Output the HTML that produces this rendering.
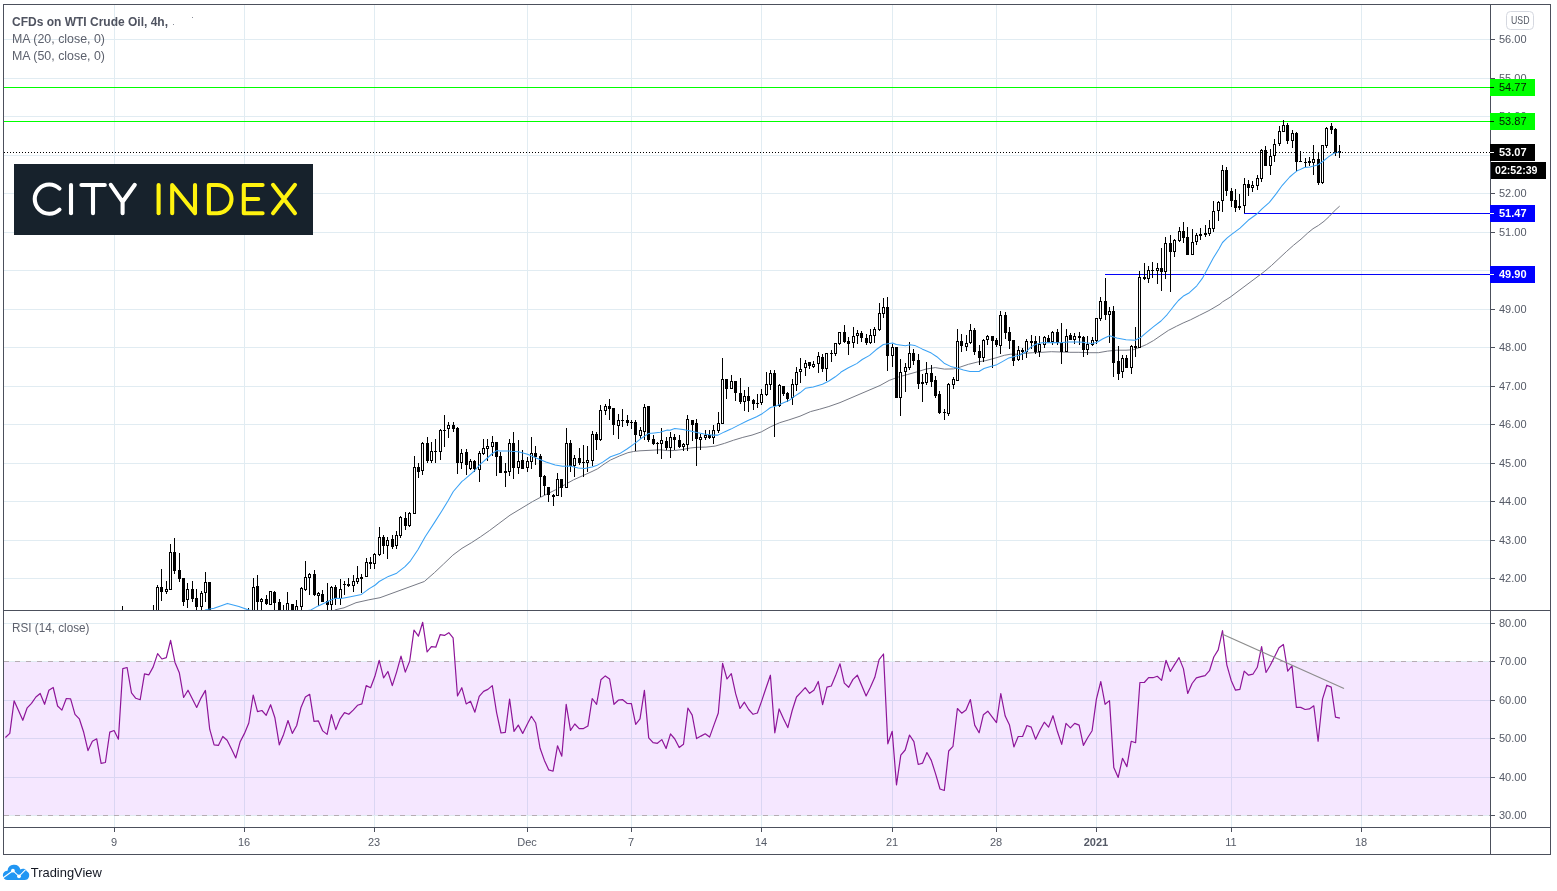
<!DOCTYPE html>
<html><head><meta charset="utf-8"><title>CFDs on WTI Crude Oil, 4h</title>
<style>html,body{margin:0;padding:0;background:#fff;}body{width:1557px;height:891px;overflow:hidden;font-family:"Liberation Sans",sans-serif;}svg{display:block;will-change:transform;}text{font-family:"Liberation Sans",sans-serif;}</style></head><body>
<svg width="1557" height="891" viewBox="0 0 1557 891">
<rect x="0" y="0" width="1557" height="891" fill="#ffffff"/>
<g shape-rendering="crispEdges" stroke="#e1ecf2" stroke-width="1">
<line x1="114.5" y1="5" x2="114.5" y2="827"/>
<line x1="244.5" y1="5" x2="244.5" y2="827"/>
<line x1="374.5" y1="5" x2="374.5" y2="827"/>
<line x1="527.5" y1="5" x2="527.5" y2="827"/>
<line x1="631.5" y1="5" x2="631.5" y2="827"/>
<line x1="761.5" y1="5" x2="761.5" y2="827"/>
<line x1="892.5" y1="5" x2="892.5" y2="827"/>
<line x1="996.5" y1="5" x2="996.5" y2="827"/>
<line x1="1096.5" y1="5" x2="1096.5" y2="827"/>
<line x1="1231.5" y1="5" x2="1231.5" y2="827"/>
<line x1="1361.5" y1="5" x2="1361.5" y2="827"/>
<line x1="4" y1="578.5" x2="1490" y2="578.5"/>
<line x1="4" y1="540.5" x2="1490" y2="540.5"/>
<line x1="4" y1="501.5" x2="1490" y2="501.5"/>
<line x1="4" y1="463.5" x2="1490" y2="463.5"/>
<line x1="4" y1="424.5" x2="1490" y2="424.5"/>
<line x1="4" y1="386.5" x2="1490" y2="386.5"/>
<line x1="4" y1="347.5" x2="1490" y2="347.5"/>
<line x1="4" y1="309.5" x2="1490" y2="309.5"/>
<line x1="4" y1="270.5" x2="1490" y2="270.5"/>
<line x1="4" y1="232.5" x2="1490" y2="232.5"/>
<line x1="4" y1="193.5" x2="1490" y2="193.5"/>
<line x1="4" y1="155.5" x2="1490" y2="155.5"/>
<line x1="4" y1="116.5" x2="1490" y2="116.5"/>
<line x1="4" y1="78.5" x2="1490" y2="78.5"/>
<line x1="4" y1="39.5" x2="1490" y2="39.5"/>
<line x1="4" y1="623.5" x2="1490" y2="623.5"/>
<line x1="4" y1="661.5" x2="1490" y2="661.5"/>
<line x1="4" y1="700.5" x2="1490" y2="700.5"/>
<line x1="4" y1="738.5" x2="1490" y2="738.5"/>
<line x1="4" y1="777.5" x2="1490" y2="777.5"/>
<line x1="4" y1="815.5" x2="1490" y2="815.5"/>
</g>
<rect x="4" y="662" width="1486" height="153" fill="#9915ff" fill-opacity="0.10"/>
<g shape-rendering="crispEdges" stroke="#b5adb3" stroke-width="1" stroke-dasharray="5,6">
<line x1="4" y1="661.5" x2="1490" y2="661.5"/><line x1="4" y1="815.5" x2="1490" y2="815.5"/></g>
<defs><clipPath id="cm"><rect x="4" y="5" width="1486" height="605"/></clipPath><clipPath id="cr"><rect x="4" y="611" width="1486" height="216"/></clipPath></defs>
<g shape-rendering="crispEdges" stroke-width="1">
<line x1="4" y1="87.5" x2="1490" y2="87.5" stroke="#00ff00"/>
<line x1="4" y1="121.5" x2="1490" y2="121.5" stroke="#00ff00"/>
<line x1="1244" y1="213.5" x2="1490" y2="213.5" stroke="#0404f8"/>
<line x1="1105" y1="274.5" x2="1490" y2="274.5" stroke="#0404f8"/>
</g>
<polyline clip-path="url(#cm)" points="334.8,609.9 344.0,607.8 356.0,602.7 368.9,599.8 380.0,597.7 424.3,581.5 434.4,572.7 443.6,564.0 452.8,555.2 462.0,548.3 471.3,542.8 480.5,536.8 489.7,530.4 498.9,523.5 510.0,515.2 532.7,501.5 540.5,497.3 547.9,493.6 555.2,490.0 564.4,484.9 573.6,479.8 582.8,475.7 592.0,471.5 597.6,468.8 604.0,464.2 610.5,460.0 619.7,455.9 627.9,452.7 633.5,451.5 640.0,450.8 660.0,449.8 667.4,450.6 674.7,450.5 683.0,449.4 690.4,448.0 696.8,447.3 706.0,447.1 715.2,446.1 724.4,443.4 733.6,440.2 742.8,437.4 752.0,435.1 761.3,431.9 770.5,426.8 779.7,422.7 788.9,419.9 800.0,416.2 810.5,411.6 819.7,409.2 828.9,406.5 840.0,402.6 880.0,385.5 889.2,380.4 898.4,377.0 907.6,374.5 916.8,371.9 926.0,369.1 935.2,367.6 944.4,369.1 953.6,368.9 960.1,367.1 968.4,364.3 977.6,362.0 985.9,360.6 995.1,358.1 1004.3,355.3 1010.7,354.2 1020.0,354.2 1023.6,353.4 1032.8,352.7 1042.0,352.3 1051.3,351.7 1060.5,352.0 1069.7,352.3 1078.9,352.3 1089.2,352.7 1098.4,352.7 1107.6,351.1 1116.8,350.2 1126.0,350.2 1133.4,349.7 1139.8,347.4 1146.3,344.6 1153.6,340.5 1161.0,335.4 1168.4,330.4 1176.6,326.2 1183.1,323.0 1190.5,319.8 1199.7,315.2 1208.9,310.6 1220.0,304.1 1222.5,301.9 1230.0,297.3 1264.2,271.7 1271.5,265.5 1278.9,258.6 1286.3,251.7 1293.6,245.2 1301.0,239.2 1307.4,233.3 1313.0,228.7 1318.5,225.4 1324.0,221.3 1329.5,216.2 1334.1,211.2 1339.7,206.1" fill="none" stroke="#777a85" stroke-width="1.0" stroke-linejoin="round"/>
<g clip-path="url(#cm)" shape-rendering="crispEdges">
<rect x="122" y="606" width="1" height="94" fill="#000"/>
<rect x="121" y="613" width="3" height="87" fill="#000"/>
<rect x="153" y="605" width="1" height="95" fill="#000"/>
<rect x="152" y="613" width="3" height="87" fill="#000"/>
<rect x="157" y="585" width="1" height="115" fill="#000"/>
<rect x="156" y="587" width="3" height="113" fill="#000"/><rect x="157" y="588" width="1" height="111" fill="#fff"/>
<rect x="161" y="569" width="1" height="32" fill="#000"/>
<rect x="160" y="587" width="3" height="5" fill="#000"/>
<rect x="166" y="581" width="1" height="13" fill="#000"/>
<rect x="165" y="589" width="3" height="3" fill="#000"/><rect x="166" y="590" width="1" height="1" fill="#fff"/>
<rect x="170" y="544" width="1" height="46" fill="#000"/>
<rect x="169" y="552" width="3" height="38" fill="#000"/><rect x="170" y="553" width="1" height="36" fill="#fff"/>
<rect x="174" y="538" width="1" height="36" fill="#000"/>
<rect x="173" y="552" width="3" height="19" fill="#000"/>
<rect x="179" y="553" width="1" height="29" fill="#000"/>
<rect x="178" y="570" width="3" height="9" fill="#000"/>
<rect x="183" y="578" width="1" height="28" fill="#000"/>
<rect x="182" y="578" width="3" height="24" fill="#000"/>
<rect x="187" y="583" width="1" height="25" fill="#000"/>
<rect x="186" y="589" width="3" height="11" fill="#000"/><rect x="187" y="590" width="1" height="9" fill="#fff"/>
<rect x="192" y="581" width="1" height="21" fill="#000"/>
<rect x="191" y="589" width="3" height="10" fill="#000"/>
<rect x="196" y="589" width="1" height="111" fill="#000"/>
<rect x="195" y="598" width="3" height="9" fill="#000"/>
<rect x="201" y="591" width="1" height="109" fill="#000"/>
<rect x="200" y="593" width="3" height="14" fill="#000"/><rect x="201" y="594" width="1" height="12" fill="#fff"/>
<rect x="205" y="572" width="1" height="30" fill="#000"/>
<rect x="204" y="582" width="3" height="11" fill="#000"/><rect x="205" y="583" width="1" height="9" fill="#fff"/>
<rect x="209" y="582" width="1" height="118" fill="#000"/>
<rect x="208" y="582" width="3" height="118" fill="#000"/>
<rect x="248" y="608" width="1" height="92" fill="#000"/>
<rect x="247" y="613" width="3" height="87" fill="#000"/>
<rect x="253" y="578" width="1" height="122" fill="#000"/>
<rect x="252" y="587" width="3" height="113" fill="#000"/><rect x="253" y="588" width="1" height="111" fill="#fff"/>
<rect x="257" y="575" width="1" height="125" fill="#000"/>
<rect x="256" y="586" width="3" height="16" fill="#000"/>
<rect x="261" y="598" width="1" height="102" fill="#000"/>
<rect x="260" y="599" width="3" height="3" fill="#000"/><rect x="261" y="600" width="1" height="1" fill="#fff"/>
<rect x="266" y="595" width="1" height="10" fill="#000"/>
<rect x="265" y="599" width="3" height="5" fill="#000"/>
<rect x="270" y="591" width="1" height="14" fill="#000"/>
<rect x="269" y="591" width="3" height="14" fill="#000"/><rect x="270" y="592" width="1" height="12" fill="#fff"/>
<rect x="274" y="591" width="1" height="109" fill="#000"/>
<rect x="273" y="592" width="3" height="11" fill="#000"/>
<rect x="279" y="599" width="1" height="101" fill="#000"/>
<rect x="278" y="602" width="3" height="98" fill="#000"/>
<rect x="283" y="605" width="1" height="95" fill="#000"/>
<rect x="282" y="613" width="3" height="87" fill="#000"/>
<rect x="287" y="592" width="1" height="108" fill="#000"/>
<rect x="286" y="603" width="3" height="97" fill="#000"/><rect x="287" y="604" width="1" height="95" fill="#fff"/>
<rect x="292" y="604" width="1" height="96" fill="#000"/>
<rect x="291" y="604" width="3" height="96" fill="#000"/>
<rect x="296" y="600" width="1" height="100" fill="#000"/>
<rect x="295" y="606" width="3" height="94" fill="#000"/><rect x="296" y="607" width="1" height="92" fill="#fff"/>
<rect x="301" y="587" width="1" height="113" fill="#000"/>
<rect x="300" y="588" width="3" height="19" fill="#000"/><rect x="301" y="589" width="1" height="17" fill="#fff"/>
<rect x="305" y="561" width="1" height="30" fill="#000"/>
<rect x="304" y="577" width="3" height="13" fill="#000"/><rect x="305" y="578" width="1" height="11" fill="#fff"/>
<rect x="309" y="573" width="1" height="22" fill="#000"/>
<rect x="308" y="574" width="3" height="4" fill="#000"/><rect x="309" y="575" width="1" height="2" fill="#fff"/>
<rect x="314" y="570" width="1" height="26" fill="#000"/>
<rect x="313" y="574" width="3" height="21" fill="#000"/>
<rect x="318" y="592" width="1" height="14" fill="#000"/>
<rect x="317" y="593" width="3" height="3" fill="#000"/><rect x="318" y="594" width="1" height="1" fill="#fff"/>
<rect x="322" y="590" width="1" height="12" fill="#000"/>
<rect x="321" y="594" width="3" height="8" fill="#000"/>
<rect x="327" y="583" width="1" height="117" fill="#000"/>
<rect x="326" y="601" width="3" height="4" fill="#000"/>
<rect x="331" y="586" width="1" height="114" fill="#000"/>
<rect x="330" y="587" width="3" height="18" fill="#000"/><rect x="331" y="588" width="1" height="16" fill="#fff"/>
<rect x="335" y="585" width="1" height="20" fill="#000"/>
<rect x="334" y="587" width="3" height="12" fill="#000"/>
<rect x="340" y="579" width="1" height="26" fill="#000"/>
<rect x="339" y="589" width="3" height="10" fill="#000"/><rect x="340" y="590" width="1" height="8" fill="#fff"/>
<rect x="344" y="581" width="1" height="14" fill="#000"/>
<rect x="343" y="584" width="3" height="1" fill="#000"/>
<rect x="348" y="578" width="1" height="9" fill="#000"/>
<rect x="347" y="584" width="3" height="2" fill="#000"/>
<rect x="353" y="575" width="1" height="17" fill="#000"/>
<rect x="352" y="581" width="3" height="5" fill="#000"/><rect x="353" y="582" width="1" height="3" fill="#fff"/>
<rect x="357" y="566" width="1" height="18" fill="#000"/>
<rect x="356" y="578" width="3" height="4" fill="#000"/><rect x="357" y="579" width="1" height="2" fill="#fff"/>
<rect x="361" y="574" width="1" height="19" fill="#000"/>
<rect x="360" y="577" width="3" height="2" fill="#000"/>
<rect x="366" y="558" width="1" height="19" fill="#000"/>
<rect x="365" y="562" width="3" height="15" fill="#000"/><rect x="366" y="563" width="1" height="13" fill="#fff"/>
<rect x="370" y="557" width="1" height="12" fill="#000"/>
<rect x="369" y="562" width="3" height="2" fill="#000"/>
<rect x="374" y="553" width="1" height="16" fill="#000"/>
<rect x="373" y="554" width="3" height="10" fill="#000"/><rect x="374" y="555" width="1" height="8" fill="#fff"/>
<rect x="379" y="527" width="1" height="29" fill="#000"/>
<rect x="378" y="537" width="3" height="18" fill="#000"/><rect x="379" y="538" width="1" height="16" fill="#fff"/>
<rect x="383" y="535" width="1" height="19" fill="#000"/>
<rect x="382" y="537" width="3" height="9" fill="#000"/>
<rect x="387" y="537" width="1" height="22" fill="#000"/>
<rect x="386" y="540" width="3" height="6" fill="#000"/><rect x="387" y="541" width="1" height="4" fill="#fff"/>
<rect x="392" y="535" width="1" height="14" fill="#000"/>
<rect x="391" y="539" width="3" height="8" fill="#000"/>
<rect x="396" y="531" width="1" height="18" fill="#000"/>
<rect x="395" y="535" width="3" height="11" fill="#000"/><rect x="396" y="536" width="1" height="9" fill="#fff"/>
<rect x="400" y="516" width="1" height="22" fill="#000"/>
<rect x="399" y="517" width="3" height="19" fill="#000"/><rect x="400" y="518" width="1" height="17" fill="#fff"/>
<rect x="405" y="512" width="1" height="18" fill="#000"/>
<rect x="404" y="518" width="3" height="8" fill="#000"/>
<rect x="409" y="512" width="1" height="15" fill="#000"/>
<rect x="408" y="513" width="3" height="13" fill="#000"/><rect x="409" y="514" width="1" height="11" fill="#fff"/>
<rect x="414" y="456" width="1" height="58" fill="#000"/>
<rect x="413" y="467" width="3" height="47" fill="#000"/><rect x="414" y="468" width="1" height="45" fill="#fff"/>
<rect x="418" y="463" width="1" height="15" fill="#000"/>
<rect x="417" y="467" width="3" height="5" fill="#000"/>
<rect x="422" y="442" width="1" height="33" fill="#000"/>
<rect x="421" y="443" width="3" height="28" fill="#000"/><rect x="422" y="444" width="1" height="26" fill="#fff"/>
<rect x="427" y="437" width="1" height="26" fill="#000"/>
<rect x="426" y="443" width="3" height="18" fill="#000"/>
<rect x="431" y="442" width="1" height="21" fill="#000"/>
<rect x="430" y="451" width="3" height="10" fill="#000"/><rect x="431" y="452" width="1" height="8" fill="#fff"/>
<rect x="435" y="439" width="1" height="24" fill="#000"/>
<rect x="434" y="451" width="3" height="1" fill="#000"/>
<rect x="440" y="429" width="1" height="31" fill="#000"/>
<rect x="439" y="430" width="3" height="22" fill="#000"/><rect x="440" y="431" width="1" height="20" fill="#fff"/>
<rect x="444" y="415" width="1" height="32" fill="#000"/>
<rect x="443" y="430" width="3" height="1" fill="#000"/>
<rect x="448" y="422" width="1" height="16" fill="#000"/>
<rect x="447" y="425" width="3" height="4" fill="#000"/><rect x="448" y="426" width="1" height="2" fill="#fff"/>
<rect x="453" y="422" width="1" height="10" fill="#000"/>
<rect x="452" y="425" width="3" height="4" fill="#000"/>
<rect x="457" y="427" width="1" height="47" fill="#000"/>
<rect x="456" y="428" width="3" height="35" fill="#000"/>
<rect x="461" y="449" width="1" height="20" fill="#000"/>
<rect x="460" y="453" width="3" height="10" fill="#000"/><rect x="461" y="454" width="1" height="8" fill="#fff"/>
<rect x="466" y="449" width="1" height="26" fill="#000"/>
<rect x="465" y="452" width="3" height="13" fill="#000"/>
<rect x="470" y="459" width="1" height="11" fill="#000"/>
<rect x="469" y="461" width="3" height="8" fill="#000"/><rect x="470" y="462" width="1" height="6" fill="#fff"/>
<rect x="474" y="460" width="1" height="12" fill="#000"/>
<rect x="473" y="461" width="3" height="8" fill="#000"/>
<rect x="479" y="451" width="1" height="31" fill="#000"/>
<rect x="478" y="453" width="3" height="17" fill="#000"/><rect x="479" y="454" width="1" height="15" fill="#fff"/>
<rect x="483" y="439" width="1" height="16" fill="#000"/>
<rect x="482" y="448" width="3" height="6" fill="#000"/><rect x="483" y="449" width="1" height="4" fill="#fff"/>
<rect x="487" y="439" width="1" height="22" fill="#000"/>
<rect x="486" y="446" width="3" height="3" fill="#000"/><rect x="487" y="447" width="1" height="1" fill="#fff"/>
<rect x="492" y="436" width="1" height="20" fill="#000"/>
<rect x="491" y="442" width="3" height="5" fill="#000"/><rect x="492" y="443" width="1" height="3" fill="#fff"/>
<rect x="496" y="442" width="1" height="34" fill="#000"/>
<rect x="495" y="442" width="3" height="15" fill="#000"/>
<rect x="500" y="452" width="1" height="21" fill="#000"/>
<rect x="499" y="456" width="3" height="17" fill="#000"/>
<rect x="505" y="463" width="1" height="24" fill="#000"/>
<rect x="504" y="471" width="3" height="2" fill="#000"/>
<rect x="509" y="439" width="1" height="37" fill="#000"/>
<rect x="508" y="443" width="3" height="29" fill="#000"/><rect x="509" y="444" width="1" height="27" fill="#fff"/>
<rect x="513" y="432" width="1" height="47" fill="#000"/>
<rect x="512" y="443" width="3" height="25" fill="#000"/>
<rect x="518" y="440" width="1" height="34" fill="#000"/>
<rect x="517" y="461" width="3" height="7" fill="#000"/><rect x="518" y="462" width="1" height="5" fill="#fff"/>
<rect x="522" y="450" width="1" height="19" fill="#000"/>
<rect x="521" y="460" width="3" height="9" fill="#000"/>
<rect x="527" y="457" width="1" height="15" fill="#000"/>
<rect x="526" y="461" width="3" height="7" fill="#000"/><rect x="527" y="462" width="1" height="5" fill="#fff"/>
<rect x="531" y="437" width="1" height="32" fill="#000"/>
<rect x="530" y="453" width="3" height="9" fill="#000"/><rect x="531" y="454" width="1" height="7" fill="#fff"/>
<rect x="535" y="446" width="1" height="19" fill="#000"/>
<rect x="534" y="453" width="3" height="4" fill="#000"/>
<rect x="540" y="454" width="1" height="43" fill="#000"/>
<rect x="539" y="456" width="3" height="21" fill="#000"/>
<rect x="544" y="475" width="1" height="20" fill="#000"/>
<rect x="543" y="476" width="3" height="10" fill="#000"/>
<rect x="548" y="487" width="1" height="15" fill="#000"/>
<rect x="547" y="487" width="3" height="8" fill="#000"/>
<rect x="553" y="494" width="1" height="12" fill="#000"/>
<rect x="552" y="495" width="3" height="2" fill="#000"/>
<rect x="557" y="473" width="1" height="23" fill="#000"/>
<rect x="556" y="479" width="3" height="17" fill="#000"/><rect x="557" y="480" width="1" height="15" fill="#fff"/>
<rect x="561" y="479" width="1" height="18" fill="#000"/>
<rect x="560" y="479" width="3" height="9" fill="#000"/>
<rect x="566" y="428" width="1" height="60" fill="#000"/>
<rect x="565" y="443" width="3" height="45" fill="#000"/><rect x="566" y="444" width="1" height="43" fill="#fff"/>
<rect x="570" y="440" width="1" height="32" fill="#000"/>
<rect x="569" y="443" width="3" height="23" fill="#000"/>
<rect x="574" y="455" width="1" height="22" fill="#000"/>
<rect x="573" y="458" width="3" height="8" fill="#000"/><rect x="574" y="459" width="1" height="6" fill="#fff"/>
<rect x="579" y="448" width="1" height="17" fill="#000"/>
<rect x="578" y="458" width="3" height="5" fill="#000"/>
<rect x="583" y="445" width="1" height="32" fill="#000"/>
<rect x="582" y="462" width="3" height="1" fill="#000"/>
<rect x="587" y="446" width="1" height="26" fill="#000"/>
<rect x="586" y="460" width="3" height="3" fill="#000"/><rect x="587" y="461" width="1" height="1" fill="#fff"/>
<rect x="592" y="431" width="1" height="35" fill="#000"/>
<rect x="591" y="434" width="3" height="27" fill="#000"/><rect x="592" y="435" width="1" height="25" fill="#fff"/>
<rect x="596" y="432" width="1" height="18" fill="#000"/>
<rect x="595" y="434" width="3" height="6" fill="#000"/>
<rect x="600" y="405" width="1" height="36" fill="#000"/>
<rect x="599" y="410" width="3" height="30" fill="#000"/><rect x="600" y="411" width="1" height="28" fill="#fff"/>
<rect x="605" y="404" width="1" height="11" fill="#000"/>
<rect x="604" y="406" width="3" height="5" fill="#000"/><rect x="605" y="407" width="1" height="3" fill="#fff"/>
<rect x="609" y="399" width="1" height="21" fill="#000"/>
<rect x="608" y="406" width="3" height="3" fill="#000"/>
<rect x="613" y="408" width="1" height="27" fill="#000"/>
<rect x="612" y="408" width="3" height="17" fill="#000"/>
<rect x="618" y="414" width="1" height="25" fill="#000"/>
<rect x="617" y="420" width="3" height="6" fill="#000"/><rect x="618" y="421" width="1" height="4" fill="#fff"/>
<rect x="622" y="409" width="1" height="18" fill="#000"/>
<rect x="621" y="420" width="3" height="1" fill="#000"/>
<rect x="627" y="415" width="1" height="11" fill="#000"/>
<rect x="626" y="420" width="3" height="3" fill="#000"/>
<rect x="631" y="420" width="1" height="9" fill="#000"/>
<rect x="630" y="422" width="3" height="1" fill="#000"/>
<rect x="635" y="420" width="1" height="31" fill="#000"/>
<rect x="634" y="422" width="3" height="13" fill="#000"/>
<rect x="640" y="427" width="1" height="12" fill="#000"/>
<rect x="639" y="430" width="3" height="6" fill="#000"/><rect x="640" y="431" width="1" height="4" fill="#fff"/>
<rect x="644" y="404" width="1" height="36" fill="#000"/>
<rect x="643" y="407" width="3" height="25" fill="#000"/><rect x="644" y="408" width="1" height="23" fill="#fff"/>
<rect x="648" y="406" width="1" height="36" fill="#000"/>
<rect x="647" y="406" width="3" height="34" fill="#000"/>
<rect x="653" y="435" width="1" height="10" fill="#000"/>
<rect x="652" y="439" width="3" height="5" fill="#000"/>
<rect x="657" y="442" width="1" height="12" fill="#000"/>
<rect x="656" y="443" width="3" height="1" fill="#000"/>
<rect x="661" y="428" width="1" height="31" fill="#000"/>
<rect x="660" y="440" width="3" height="4" fill="#000"/><rect x="661" y="441" width="1" height="2" fill="#fff"/>
<rect x="666" y="437" width="1" height="13" fill="#000"/>
<rect x="665" y="441" width="3" height="7" fill="#000"/>
<rect x="670" y="432" width="1" height="26" fill="#000"/>
<rect x="669" y="437" width="3" height="11" fill="#000"/><rect x="670" y="438" width="1" height="9" fill="#fff"/>
<rect x="674" y="434" width="1" height="16" fill="#000"/>
<rect x="673" y="437" width="3" height="3" fill="#000"/>
<rect x="679" y="435" width="1" height="13" fill="#000"/>
<rect x="678" y="440" width="3" height="7" fill="#000"/>
<rect x="683" y="443" width="1" height="8" fill="#000"/>
<rect x="682" y="444" width="3" height="3" fill="#000"/><rect x="683" y="445" width="1" height="1" fill="#fff"/>
<rect x="687" y="415" width="1" height="36" fill="#000"/>
<rect x="686" y="419" width="3" height="26" fill="#000"/><rect x="687" y="420" width="1" height="24" fill="#fff"/>
<rect x="692" y="420" width="1" height="21" fill="#000"/>
<rect x="691" y="420" width="3" height="5" fill="#000"/>
<rect x="696" y="419" width="1" height="47" fill="#000"/>
<rect x="695" y="423" width="3" height="16" fill="#000"/>
<rect x="700" y="434" width="1" height="16" fill="#000"/>
<rect x="699" y="437" width="3" height="3" fill="#000"/><rect x="700" y="438" width="1" height="1" fill="#fff"/>
<rect x="705" y="430" width="1" height="10" fill="#000"/>
<rect x="704" y="435" width="3" height="3" fill="#000"/><rect x="705" y="436" width="1" height="1" fill="#fff"/>
<rect x="709" y="430" width="1" height="9" fill="#000"/>
<rect x="708" y="435" width="3" height="3" fill="#000"/>
<rect x="713" y="425" width="1" height="19" fill="#000"/>
<rect x="712" y="430" width="3" height="8" fill="#000"/><rect x="713" y="431" width="1" height="6" fill="#fff"/>
<rect x="718" y="412" width="1" height="21" fill="#000"/>
<rect x="717" y="423" width="3" height="8" fill="#000"/><rect x="718" y="424" width="1" height="6" fill="#fff"/>
<rect x="722" y="358" width="1" height="66" fill="#000"/>
<rect x="721" y="379" width="3" height="45" fill="#000"/><rect x="722" y="380" width="1" height="43" fill="#fff"/>
<rect x="726" y="379" width="1" height="20" fill="#000"/>
<rect x="725" y="379" width="3" height="10" fill="#000"/>
<rect x="731" y="375" width="1" height="14" fill="#000"/>
<rect x="730" y="381" width="3" height="8" fill="#000"/><rect x="731" y="382" width="1" height="6" fill="#fff"/>
<rect x="735" y="381" width="1" height="20" fill="#000"/>
<rect x="734" y="381" width="3" height="12" fill="#000"/>
<rect x="740" y="378" width="1" height="26" fill="#000"/>
<rect x="739" y="393" width="3" height="9" fill="#000"/>
<rect x="744" y="390" width="1" height="21" fill="#000"/>
<rect x="743" y="396" width="3" height="6" fill="#000"/><rect x="744" y="397" width="1" height="4" fill="#fff"/>
<rect x="748" y="387" width="1" height="25" fill="#000"/>
<rect x="747" y="396" width="3" height="5" fill="#000"/>
<rect x="753" y="399" width="1" height="11" fill="#000"/>
<rect x="752" y="400" width="3" height="4" fill="#000"/>
<rect x="757" y="394" width="1" height="14" fill="#000"/>
<rect x="756" y="403" width="3" height="1" fill="#000"/>
<rect x="761" y="389" width="1" height="16" fill="#000"/>
<rect x="760" y="394" width="3" height="9" fill="#000"/><rect x="761" y="395" width="1" height="7" fill="#fff"/>
<rect x="766" y="372" width="1" height="24" fill="#000"/>
<rect x="765" y="384" width="3" height="11" fill="#000"/><rect x="766" y="385" width="1" height="9" fill="#fff"/>
<rect x="770" y="370" width="1" height="20" fill="#000"/>
<rect x="769" y="373" width="3" height="12" fill="#000"/><rect x="770" y="374" width="1" height="10" fill="#fff"/>
<rect x="774" y="370" width="1" height="67" fill="#000"/>
<rect x="773" y="373" width="3" height="33" fill="#000"/>
<rect x="779" y="384" width="1" height="23" fill="#000"/>
<rect x="778" y="385" width="3" height="21" fill="#000"/><rect x="779" y="386" width="1" height="19" fill="#fff"/>
<rect x="783" y="386" width="1" height="10" fill="#000"/>
<rect x="782" y="386" width="3" height="8" fill="#000"/>
<rect x="787" y="392" width="1" height="10" fill="#000"/>
<rect x="786" y="393" width="3" height="6" fill="#000"/>
<rect x="792" y="379" width="1" height="26" fill="#000"/>
<rect x="791" y="384" width="3" height="14" fill="#000"/><rect x="792" y="385" width="1" height="12" fill="#fff"/>
<rect x="796" y="367" width="1" height="24" fill="#000"/>
<rect x="795" y="372" width="3" height="13" fill="#000"/><rect x="796" y="373" width="1" height="11" fill="#fff"/>
<rect x="800" y="358" width="1" height="25" fill="#000"/>
<rect x="799" y="369" width="3" height="3" fill="#000"/><rect x="800" y="370" width="1" height="1" fill="#fff"/>
<rect x="805" y="360" width="1" height="16" fill="#000"/>
<rect x="804" y="363" width="3" height="5" fill="#000"/><rect x="805" y="364" width="1" height="3" fill="#fff"/>
<rect x="809" y="362" width="1" height="7" fill="#000"/>
<rect x="808" y="362" width="3" height="4" fill="#000"/>
<rect x="813" y="361" width="1" height="7" fill="#000"/>
<rect x="812" y="364" width="3" height="3" fill="#000"/><rect x="813" y="365" width="1" height="1" fill="#fff"/>
<rect x="818" y="352" width="1" height="21" fill="#000"/>
<rect x="817" y="356" width="3" height="8" fill="#000"/><rect x="818" y="357" width="1" height="6" fill="#fff"/>
<rect x="822" y="354" width="1" height="18" fill="#000"/>
<rect x="821" y="357" width="3" height="12" fill="#000"/>
<rect x="826" y="353" width="1" height="28" fill="#000"/>
<rect x="825" y="353" width="3" height="16" fill="#000"/><rect x="826" y="354" width="1" height="14" fill="#fff"/>
<rect x="831" y="350" width="1" height="12" fill="#000"/>
<rect x="830" y="353" width="3" height="1" fill="#000"/>
<rect x="835" y="343" width="1" height="13" fill="#000"/>
<rect x="834" y="343" width="3" height="11" fill="#000"/><rect x="835" y="344" width="1" height="9" fill="#fff"/>
<rect x="839" y="332" width="1" height="13" fill="#000"/>
<rect x="838" y="332" width="3" height="12" fill="#000"/><rect x="839" y="333" width="1" height="10" fill="#fff"/>
<rect x="844" y="325" width="1" height="18" fill="#000"/>
<rect x="843" y="332" width="3" height="10" fill="#000"/>
<rect x="848" y="337" width="1" height="18" fill="#000"/>
<rect x="847" y="341" width="3" height="3" fill="#000"/>
<rect x="853" y="327" width="1" height="21" fill="#000"/>
<rect x="852" y="336" width="3" height="7" fill="#000"/><rect x="853" y="337" width="1" height="5" fill="#fff"/>
<rect x="857" y="330" width="1" height="14" fill="#000"/>
<rect x="856" y="333" width="3" height="3" fill="#000"/><rect x="857" y="334" width="1" height="1" fill="#fff"/>
<rect x="861" y="331" width="1" height="11" fill="#000"/>
<rect x="860" y="333" width="3" height="5" fill="#000"/>
<rect x="866" y="334" width="1" height="11" fill="#000"/>
<rect x="865" y="338" width="3" height="5" fill="#000"/>
<rect x="870" y="329" width="1" height="15" fill="#000"/>
<rect x="869" y="335" width="3" height="8" fill="#000"/><rect x="870" y="336" width="1" height="6" fill="#fff"/>
<rect x="874" y="327" width="1" height="16" fill="#000"/>
<rect x="873" y="329" width="3" height="7" fill="#000"/><rect x="874" y="330" width="1" height="5" fill="#fff"/>
<rect x="879" y="303" width="1" height="28" fill="#000"/>
<rect x="878" y="313" width="3" height="17" fill="#000"/><rect x="879" y="314" width="1" height="15" fill="#fff"/>
<rect x="883" y="298" width="1" height="20" fill="#000"/>
<rect x="882" y="307" width="3" height="7" fill="#000"/><rect x="883" y="308" width="1" height="5" fill="#fff"/>
<rect x="887" y="297" width="1" height="74" fill="#000"/>
<rect x="886" y="307" width="3" height="49" fill="#000"/>
<rect x="892" y="344" width="1" height="23" fill="#000"/>
<rect x="891" y="347" width="3" height="9" fill="#000"/><rect x="892" y="348" width="1" height="7" fill="#fff"/>
<rect x="896" y="347" width="1" height="51" fill="#000"/>
<rect x="895" y="347" width="3" height="51" fill="#000"/>
<rect x="900" y="359" width="1" height="57" fill="#000"/>
<rect x="899" y="372" width="3" height="26" fill="#000"/><rect x="900" y="373" width="1" height="24" fill="#fff"/>
<rect x="905" y="363" width="1" height="29" fill="#000"/>
<rect x="904" y="367" width="3" height="5" fill="#000"/><rect x="905" y="368" width="1" height="3" fill="#fff"/>
<rect x="909" y="342" width="1" height="28" fill="#000"/>
<rect x="908" y="353" width="3" height="15" fill="#000"/><rect x="909" y="354" width="1" height="13" fill="#fff"/>
<rect x="913" y="349" width="1" height="16" fill="#000"/>
<rect x="912" y="353" width="3" height="8" fill="#000"/>
<rect x="918" y="354" width="1" height="35" fill="#000"/>
<rect x="917" y="360" width="3" height="24" fill="#000"/>
<rect x="922" y="374" width="1" height="28" fill="#000"/>
<rect x="921" y="382" width="3" height="2" fill="#000"/>
<rect x="926" y="362" width="1" height="23" fill="#000"/>
<rect x="925" y="373" width="3" height="10" fill="#000"/><rect x="926" y="374" width="1" height="8" fill="#fff"/>
<rect x="931" y="365" width="1" height="22" fill="#000"/>
<rect x="930" y="373" width="3" height="9" fill="#000"/>
<rect x="935" y="376" width="1" height="22" fill="#000"/>
<rect x="934" y="380" width="3" height="16" fill="#000"/>
<rect x="939" y="391" width="1" height="23" fill="#000"/>
<rect x="938" y="394" width="3" height="19" fill="#000"/>
<rect x="944" y="409" width="1" height="11" fill="#000"/>
<rect x="943" y="412" width="3" height="1" fill="#000"/>
<rect x="948" y="383" width="1" height="33" fill="#000"/>
<rect x="947" y="384" width="3" height="30" fill="#000"/><rect x="948" y="385" width="1" height="28" fill="#fff"/>
<rect x="953" y="377" width="1" height="12" fill="#000"/>
<rect x="952" y="379" width="3" height="6" fill="#000"/><rect x="953" y="380" width="1" height="4" fill="#fff"/>
<rect x="957" y="329" width="1" height="52" fill="#000"/>
<rect x="956" y="341" width="3" height="40" fill="#000"/><rect x="957" y="342" width="1" height="38" fill="#fff"/>
<rect x="961" y="334" width="1" height="18" fill="#000"/>
<rect x="960" y="341" width="3" height="5" fill="#000"/>
<rect x="966" y="335" width="1" height="16" fill="#000"/>
<rect x="965" y="343" width="3" height="4" fill="#000"/><rect x="966" y="344" width="1" height="2" fill="#fff"/>
<rect x="970" y="324" width="1" height="20" fill="#000"/>
<rect x="969" y="330" width="3" height="13" fill="#000"/><rect x="970" y="331" width="1" height="11" fill="#fff"/>
<rect x="974" y="328" width="1" height="27" fill="#000"/>
<rect x="973" y="330" width="3" height="22" fill="#000"/>
<rect x="979" y="345" width="1" height="20" fill="#000"/>
<rect x="978" y="351" width="3" height="7" fill="#000"/>
<rect x="983" y="339" width="1" height="23" fill="#000"/>
<rect x="982" y="340" width="3" height="18" fill="#000"/><rect x="983" y="341" width="1" height="16" fill="#fff"/>
<rect x="987" y="335" width="1" height="10" fill="#000"/>
<rect x="986" y="336" width="3" height="4" fill="#000"/><rect x="987" y="337" width="1" height="2" fill="#fff"/>
<rect x="992" y="336" width="1" height="32" fill="#000"/>
<rect x="991" y="336" width="3" height="5" fill="#000"/>
<rect x="996" y="338" width="1" height="9" fill="#000"/>
<rect x="995" y="340" width="3" height="5" fill="#000"/>
<rect x="1000" y="311" width="1" height="43" fill="#000"/>
<rect x="999" y="315" width="3" height="31" fill="#000"/><rect x="1000" y="316" width="1" height="29" fill="#fff"/>
<rect x="1005" y="312" width="1" height="27" fill="#000"/>
<rect x="1004" y="315" width="3" height="18" fill="#000"/>
<rect x="1009" y="327" width="1" height="22" fill="#000"/>
<rect x="1008" y="332" width="3" height="9" fill="#000"/>
<rect x="1013" y="340" width="1" height="26" fill="#000"/>
<rect x="1012" y="340" width="3" height="21" fill="#000"/>
<rect x="1018" y="346" width="1" height="15" fill="#000"/>
<rect x="1017" y="350" width="3" height="10" fill="#000"/><rect x="1018" y="351" width="1" height="8" fill="#fff"/>
<rect x="1022" y="348" width="1" height="12" fill="#000"/>
<rect x="1021" y="350" width="3" height="2" fill="#000"/>
<rect x="1026" y="339" width="1" height="19" fill="#000"/>
<rect x="1025" y="341" width="3" height="11" fill="#000"/><rect x="1026" y="342" width="1" height="9" fill="#fff"/>
<rect x="1031" y="335" width="1" height="14" fill="#000"/>
<rect x="1030" y="341" width="3" height="2" fill="#000"/>
<rect x="1035" y="336" width="1" height="18" fill="#000"/>
<rect x="1034" y="341" width="3" height="11" fill="#000"/>
<rect x="1039" y="336" width="1" height="21" fill="#000"/>
<rect x="1038" y="344" width="3" height="8" fill="#000"/><rect x="1039" y="345" width="1" height="6" fill="#fff"/>
<rect x="1044" y="336" width="1" height="12" fill="#000"/>
<rect x="1043" y="337" width="3" height="8" fill="#000"/><rect x="1044" y="338" width="1" height="6" fill="#fff"/>
<rect x="1048" y="335" width="1" height="8" fill="#000"/>
<rect x="1047" y="338" width="3" height="4" fill="#000"/>
<rect x="1052" y="331" width="1" height="14" fill="#000"/>
<rect x="1051" y="332" width="3" height="10" fill="#000"/><rect x="1052" y="333" width="1" height="8" fill="#fff"/>
<rect x="1057" y="329" width="1" height="16" fill="#000"/>
<rect x="1056" y="332" width="3" height="11" fill="#000"/>
<rect x="1061" y="323" width="1" height="41" fill="#000"/>
<rect x="1060" y="343" width="3" height="9" fill="#000"/>
<rect x="1066" y="329" width="1" height="23" fill="#000"/>
<rect x="1065" y="336" width="3" height="16" fill="#000"/><rect x="1066" y="337" width="1" height="14" fill="#fff"/>
<rect x="1070" y="333" width="1" height="7" fill="#000"/>
<rect x="1069" y="335" width="3" height="5" fill="#000"/>
<rect x="1074" y="333" width="1" height="11" fill="#000"/>
<rect x="1073" y="336" width="3" height="4" fill="#000"/><rect x="1074" y="337" width="1" height="2" fill="#fff"/>
<rect x="1079" y="332" width="1" height="13" fill="#000"/>
<rect x="1078" y="336" width="3" height="2" fill="#000"/>
<rect x="1083" y="336" width="1" height="21" fill="#000"/>
<rect x="1082" y="337" width="3" height="13" fill="#000"/>
<rect x="1087" y="336" width="1" height="19" fill="#000"/>
<rect x="1086" y="344" width="3" height="6" fill="#000"/><rect x="1087" y="345" width="1" height="4" fill="#fff"/>
<rect x="1092" y="337" width="1" height="9" fill="#000"/>
<rect x="1091" y="340" width="3" height="5" fill="#000"/><rect x="1092" y="341" width="1" height="3" fill="#fff"/>
<rect x="1096" y="318" width="1" height="26" fill="#000"/>
<rect x="1095" y="318" width="3" height="23" fill="#000"/><rect x="1096" y="319" width="1" height="21" fill="#fff"/>
<rect x="1100" y="297" width="1" height="24" fill="#000"/>
<rect x="1099" y="301" width="3" height="18" fill="#000"/><rect x="1100" y="302" width="1" height="16" fill="#fff"/>
<rect x="1105" y="278" width="1" height="42" fill="#000"/>
<rect x="1104" y="301" width="3" height="14" fill="#000"/>
<rect x="1109" y="307" width="1" height="36" fill="#000"/>
<rect x="1108" y="311" width="3" height="4" fill="#000"/><rect x="1109" y="312" width="1" height="2" fill="#fff"/>
<rect x="1113" y="306" width="1" height="71" fill="#000"/>
<rect x="1112" y="311" width="3" height="52" fill="#000"/>
<rect x="1118" y="346" width="1" height="34" fill="#000"/>
<rect x="1117" y="361" width="3" height="13" fill="#000"/>
<rect x="1122" y="355" width="1" height="23" fill="#000"/>
<rect x="1121" y="358" width="3" height="14" fill="#000"/><rect x="1122" y="359" width="1" height="12" fill="#fff"/>
<rect x="1126" y="355" width="1" height="13" fill="#000"/>
<rect x="1125" y="358" width="3" height="10" fill="#000"/>
<rect x="1131" y="345" width="1" height="29" fill="#000"/>
<rect x="1130" y="346" width="3" height="22" fill="#000"/><rect x="1131" y="347" width="1" height="20" fill="#fff"/>
<rect x="1135" y="327" width="1" height="30" fill="#000"/>
<rect x="1134" y="346" width="3" height="2" fill="#000"/>
<rect x="1139" y="271" width="1" height="77" fill="#000"/>
<rect x="1138" y="277" width="3" height="71" fill="#000"/><rect x="1139" y="278" width="1" height="69" fill="#fff"/>
<rect x="1144" y="263" width="1" height="17" fill="#000"/>
<rect x="1143" y="277" width="3" height="2" fill="#000"/>
<rect x="1148" y="266" width="1" height="17" fill="#000"/>
<rect x="1147" y="270" width="3" height="9" fill="#000"/><rect x="1148" y="271" width="1" height="7" fill="#fff"/>
<rect x="1152" y="262" width="1" height="16" fill="#000"/>
<rect x="1151" y="270" width="3" height="1" fill="#000"/>
<rect x="1157" y="263" width="1" height="21" fill="#000"/>
<rect x="1156" y="268" width="3" height="3" fill="#000"/><rect x="1157" y="269" width="1" height="1" fill="#fff"/>
<rect x="1161" y="248" width="1" height="43" fill="#000"/>
<rect x="1160" y="268" width="3" height="4" fill="#000"/>
<rect x="1165" y="237" width="1" height="42" fill="#000"/>
<rect x="1164" y="243" width="3" height="29" fill="#000"/><rect x="1165" y="244" width="1" height="27" fill="#fff"/>
<rect x="1170" y="235" width="1" height="57" fill="#000"/>
<rect x="1169" y="243" width="3" height="9" fill="#000"/>
<rect x="1174" y="239" width="1" height="18" fill="#000"/>
<rect x="1173" y="240" width="3" height="12" fill="#000"/><rect x="1174" y="241" width="1" height="10" fill="#fff"/>
<rect x="1179" y="227" width="1" height="15" fill="#000"/>
<rect x="1178" y="231" width="3" height="10" fill="#000"/><rect x="1179" y="232" width="1" height="8" fill="#fff"/>
<rect x="1183" y="222" width="1" height="21" fill="#000"/>
<rect x="1182" y="231" width="3" height="7" fill="#000"/>
<rect x="1187" y="227" width="1" height="28" fill="#000"/>
<rect x="1186" y="237" width="3" height="18" fill="#000"/>
<rect x="1192" y="229" width="1" height="26" fill="#000"/>
<rect x="1191" y="242" width="3" height="13" fill="#000"/><rect x="1192" y="243" width="1" height="11" fill="#fff"/>
<rect x="1196" y="233" width="1" height="12" fill="#000"/>
<rect x="1195" y="235" width="3" height="7" fill="#000"/><rect x="1196" y="236" width="1" height="5" fill="#fff"/>
<rect x="1200" y="228" width="1" height="12" fill="#000"/>
<rect x="1199" y="234" width="3" height="2" fill="#000"/>
<rect x="1205" y="225" width="1" height="12" fill="#000"/>
<rect x="1204" y="233" width="3" height="2" fill="#000"/>
<rect x="1209" y="220" width="1" height="16" fill="#000"/>
<rect x="1208" y="228" width="3" height="6" fill="#000"/><rect x="1209" y="229" width="1" height="4" fill="#fff"/>
<rect x="1213" y="201" width="1" height="31" fill="#000"/>
<rect x="1212" y="211" width="3" height="18" fill="#000"/><rect x="1213" y="212" width="1" height="16" fill="#fff"/>
<rect x="1218" y="201" width="1" height="20" fill="#000"/>
<rect x="1217" y="202" width="3" height="9" fill="#000"/><rect x="1218" y="203" width="1" height="7" fill="#fff"/>
<rect x="1222" y="165" width="1" height="47" fill="#000"/>
<rect x="1221" y="170" width="3" height="31" fill="#000"/><rect x="1222" y="171" width="1" height="29" fill="#fff"/>
<rect x="1226" y="167" width="1" height="29" fill="#000"/>
<rect x="1225" y="170" width="3" height="21" fill="#000"/>
<rect x="1231" y="188" width="1" height="19" fill="#000"/>
<rect x="1230" y="191" width="3" height="10" fill="#000"/>
<rect x="1235" y="189" width="1" height="23" fill="#000"/>
<rect x="1234" y="200" width="3" height="8" fill="#000"/>
<rect x="1239" y="194" width="1" height="16" fill="#000"/>
<rect x="1238" y="206" width="3" height="2" fill="#000"/>
<rect x="1244" y="178" width="1" height="35" fill="#000"/>
<rect x="1243" y="184" width="3" height="22" fill="#000"/><rect x="1244" y="185" width="1" height="20" fill="#fff"/>
<rect x="1248" y="180" width="1" height="16" fill="#000"/>
<rect x="1247" y="184" width="3" height="4" fill="#000"/>
<rect x="1252" y="181" width="1" height="11" fill="#000"/>
<rect x="1251" y="185" width="3" height="3" fill="#000"/><rect x="1252" y="186" width="1" height="1" fill="#fff"/>
<rect x="1257" y="175" width="1" height="15" fill="#000"/>
<rect x="1256" y="178" width="3" height="8" fill="#000"/><rect x="1257" y="179" width="1" height="6" fill="#fff"/>
<rect x="1261" y="149" width="1" height="33" fill="#000"/>
<rect x="1260" y="150" width="3" height="29" fill="#000"/><rect x="1261" y="151" width="1" height="27" fill="#fff"/>
<rect x="1265" y="146" width="1" height="20" fill="#000"/>
<rect x="1264" y="150" width="3" height="16" fill="#000"/>
<rect x="1270" y="149" width="1" height="26" fill="#000"/>
<rect x="1269" y="156" width="3" height="10" fill="#000"/><rect x="1270" y="157" width="1" height="8" fill="#fff"/>
<rect x="1274" y="139" width="1" height="23" fill="#000"/>
<rect x="1273" y="144" width="3" height="12" fill="#000"/><rect x="1274" y="145" width="1" height="10" fill="#fff"/>
<rect x="1279" y="126" width="1" height="20" fill="#000"/>
<rect x="1278" y="131" width="3" height="13" fill="#000"/><rect x="1279" y="132" width="1" height="11" fill="#fff"/>
<rect x="1283" y="120" width="1" height="12" fill="#000"/>
<rect x="1282" y="125" width="3" height="7" fill="#000"/><rect x="1283" y="126" width="1" height="5" fill="#fff"/>
<rect x="1287" y="123" width="1" height="21" fill="#000"/>
<rect x="1286" y="125" width="3" height="16" fill="#000"/>
<rect x="1292" y="130" width="1" height="18" fill="#000"/>
<rect x="1291" y="133" width="3" height="8" fill="#000"/><rect x="1292" y="134" width="1" height="6" fill="#fff"/>
<rect x="1296" y="132" width="1" height="39" fill="#000"/>
<rect x="1295" y="133" width="3" height="29" fill="#000"/>
<rect x="1300" y="151" width="1" height="11" fill="#000"/>
<rect x="1299" y="161" width="3" height="1" fill="#000"/>
<rect x="1305" y="158" width="1" height="9" fill="#000"/>
<rect x="1304" y="162" width="3" height="1" fill="#000"/>
<rect x="1309" y="157" width="1" height="9" fill="#000"/>
<rect x="1308" y="161" width="3" height="2" fill="#000"/>
<rect x="1313" y="145" width="1" height="30" fill="#000"/>
<rect x="1312" y="159" width="3" height="4" fill="#000"/><rect x="1313" y="160" width="1" height="2" fill="#fff"/>
<rect x="1318" y="152" width="1" height="33" fill="#000"/>
<rect x="1317" y="159" width="3" height="24" fill="#000"/>
<rect x="1322" y="145" width="1" height="39" fill="#000"/>
<rect x="1321" y="145" width="3" height="38" fill="#000"/><rect x="1322" y="146" width="1" height="36" fill="#fff"/>
<rect x="1326" y="127" width="1" height="21" fill="#000"/>
<rect x="1325" y="128" width="3" height="18" fill="#000"/><rect x="1326" y="129" width="1" height="16" fill="#fff"/>
<rect x="1331" y="123" width="1" height="11" fill="#000"/>
<rect x="1330" y="126" width="3" height="4" fill="#000"/>
<rect x="1335" y="128" width="1" height="28" fill="#000"/>
<rect x="1334" y="129" width="3" height="24" fill="#000"/>
<rect x="1339" y="145" width="1" height="13" fill="#000"/>
<rect x="1338" y="151" width="3" height="2" fill="#000"/>
</g>
<polyline clip-path="url(#cm)" points="204.8,609.9 214.0,608.2 220.5,605.9 227.4,603.4 238.9,606.4 247.4,609.6 276.8,617.4 310.9,609.9 318.2,605.9 327.4,601.8 332.0,599.5 335.7,598.3 341.3,598.6 350.5,596.7 361.5,594.4 368.9,588.9 375.3,585.0 379.2,581.5 388.4,576.4 396.7,573.2 405.0,566.7 410.5,560.8 417.9,549.7 425.2,536.8 434.4,522.6 441.8,511.0 448.2,500.5 453.3,491.5 462.0,481.3 464.0,479.8 469.0,475.6 474.3,471.0 480.2,464.3 487.4,458.0 492.3,453.5 496.8,450.6 500.0,451.1 504.5,451.0 509.2,451.1 511.0,451.3 518.4,451.8 527.6,454.2 536.8,458.2 546.0,461.9 555.2,464.9 562.6,466.2 570.0,466.0 578.2,467.9 584.7,468.5 592.0,466.9 596.6,465.6 603.1,461.9 610.5,456.8 619.7,453.6 627.0,449.0 633.5,444.4 640.0,439.3 648.7,433.4 654.3,432.9 660.0,432.3 661.6,431.8 667.4,430.0 670.0,430.2 674.7,428.5 683.0,429.6 690.4,431.0 696.8,432.5 704.2,434.0 711.5,435.1 718.0,435.1 724.4,431.9 730.9,429.1 738.2,425.4 747.4,420.8 756.6,416.7 762.2,413.7 766.8,410.3 770.5,407.5 776.0,406.1 782.4,403.3 788.9,400.6 794.4,396.4 800.0,392.8 805.4,388.3 813.2,386.9 822.4,384.2 828.9,381.0 835.3,376.8 840.0,373.1 841.5,371.7 848.4,367.8 856.7,363.6 862.2,359.5 869.6,355.4 876.0,349.8 883.4,344.5 892.6,342.9 896.3,344.5 905.5,345.7 910.1,344.8 914.7,345.4 922.0,348.9 931.3,353.1 936.8,356.7 944.1,363.2 950.6,366.4 957.0,368.1 963.5,369.9 970.0,371.5 979.0,371.5 984.0,368.5 990.5,366.4 996.0,365.1 1002.4,361.6 1008.9,357.9 1014.4,356.5 1020.0,355.0 1026.4,351.5 1031.0,346.9 1036.5,344.0 1042.0,342.8 1051.3,342.5 1060.5,342.8 1067.8,341.9 1077.0,341.9 1083.5,342.2 1085.5,342.8 1090.0,343.3 1092.0,343.4 1096.6,342.5 1103.0,338.7 1109.5,335.7 1116.8,337.9 1126.0,339.8 1135.2,340.3 1140.8,337.3 1146.3,332.7 1153.6,326.7 1161.0,321.0 1167.4,314.3 1173.3,306.7 1178.4,300.5 1183.9,295.7 1189.4,292.7 1196.8,285.8 1202.3,278.4 1207.8,268.3 1213.3,258.1 1218.9,248.9 1222.5,242.5 1227.2,237.9 1230.0,235.6 1240.0,228.1 1248.2,220.3 1256.5,214.3 1262.0,208.8 1269.4,202.3 1275.9,194.1 1282.3,185.3 1289.7,177.0 1293.3,173.8 1297.1,170.8 1298.9,170.1 1304.4,167.5 1310.0,167.1 1318.2,164.8 1322.8,161.5 1328.4,156.9 1333.9,153.3 1339.5,151.9" fill="none" stroke="#3aa2f5" stroke-width="1.05" stroke-linejoin="round"/>
<line x1="4" y1="152.5" x2="1490" y2="152.5" stroke="#000" stroke-width="1" stroke-dasharray="1,2" shape-rendering="crispEdges"/>
<polyline clip-path="url(#cr)" points="5.4,737.5 9.8,733.4 14.1,700.8 18.5,710.5 22.8,720.3 27.2,707.8 31.5,703.3 35.9,697.0 40.2,693.5 44.6,704.3 48.9,690.2 53.2,687.5 57.6,706.0 61.9,710.1 66.3,698.5 70.6,698.9 75.0,714.3 79.3,718.8 83.7,732.3 88.0,750.6 92.4,741.3 96.7,738.8 101.1,763.3 105.4,762.5 109.8,732.1 114.1,730.5 118.4,739.2 122.8,668.6 127.1,667.5 131.5,692.9 135.8,698.3 140.2,699.7 144.5,673.8 148.9,674.8 153.2,666.9 157.6,653.6 161.9,659.0 166.3,657.6 170.6,640.3 175.0,662.4 179.3,672.7 183.6,697.5 188.0,690.2 192.3,698.7 196.7,707.4 201.0,698.1 205.4,690.4 209.7,729.2 214.1,744.8 218.4,745.4 222.8,736.5 227.1,740.2 231.5,749.0 235.8,757.9 240.2,741.7 244.5,733.4 248.8,723.0 253.2,695.0 257.5,711.6 261.9,710.5 266.2,715.3 270.6,704.7 274.9,717.8 279.3,744.8 283.6,734.4 288.0,720.5 292.3,733.4 296.7,725.5 301.0,707.4 305.4,697.0 309.7,694.3 314.0,721.3 318.4,720.9 322.7,730.9 327.1,734.4 331.4,714.7 335.8,729.6 340.1,718.8 344.5,712.6 348.8,714.3 353.2,710.1 357.5,705.3 361.9,703.9 366.2,685.6 370.6,687.7 374.9,676.3 379.2,660.3 383.6,677.9 387.9,671.5 392.3,685.6 396.6,672.1 401.0,656.1 405.3,672.1 409.7,661.1 414.0,630.0 418.4,636.2 422.7,622.3 427.1,652.0 431.4,646.6 435.8,647.2 440.1,634.7 444.4,635.4 448.8,632.7 453.1,637.8 457.5,696.0 461.8,687.7 466.2,703.9 470.5,701.2 474.9,712.2 479.2,696.4 483.6,691.4 487.9,689.4 492.3,685.6 496.6,712.6 501.0,733.0 505.3,732.3 509.6,699.1 514.0,731.3 518.3,725.1 522.7,733.4 527.0,724.7 531.4,716.3 535.7,723.0 540.1,748.3 544.4,760.4 548.8,769.9 553.1,771.2 557.5,745.8 561.8,756.2 566.2,704.3 570.5,730.3 574.8,724.0 579.2,728.6 583.5,728.6 587.9,726.1 592.2,698.5 596.6,704.3 600.9,679.8 605.3,675.9 609.6,679.0 614.0,704.3 618.3,700.2 622.7,699.7 627.0,703.3 631.4,703.7 635.7,724.4 640.0,718.8 644.4,690.4 648.7,737.9 653.1,742.7 657.4,743.3 661.8,739.6 666.1,748.5 670.5,733.8 674.8,739.0 679.2,747.5 683.5,744.2 687.9,708.0 692.2,715.1 696.6,738.6 700.9,736.1 705.2,733.8 709.6,737.1 713.9,725.1 718.3,713.0 722.6,663.4 727.0,679.0 731.3,673.6 735.7,693.9 740.0,708.5 744.4,702.2 748.7,709.5 753.1,714.3 757.4,713.0 761.8,700.6 766.1,687.7 770.4,675.2 774.8,732.8 779.1,708.9 783.5,718.8 787.8,727.6 792.2,710.5 796.5,697.0 800.9,692.3 805.2,687.7 809.6,693.3 813.9,690.2 818.3,681.5 822.6,704.7 827.0,687.1 831.3,686.0 835.6,675.6 840.0,663.8 844.3,683.1 848.7,687.3 853.0,679.4 857.4,675.2 861.7,685.6 866.1,696.0 870.4,687.3 874.8,677.3 879.1,659.7 883.5,654.0 887.8,743.8 892.2,731.3 896.5,784.9 900.8,755.2 905.2,750.0 909.5,735.0 913.9,741.7 918.2,764.5 922.6,763.1 926.9,752.5 931.3,760.4 935.6,773.9 940.0,789.0 944.3,790.5 948.7,751.0 953.0,746.3 957.4,708.5 961.7,713.2 966.0,710.1 970.4,699.5 974.7,725.1 979.1,732.8 983.4,714.7 987.8,711.2 992.1,716.8 996.5,722.6 1000.8,693.5 1005.2,716.1 1009.5,725.1 1013.9,746.9 1018.2,736.5 1022.6,736.5 1026.9,725.5 1031.2,727.1 1035.6,739.2 1039.9,730.3 1044.3,722.2 1048.6,727.1 1053.0,715.7 1057.3,731.3 1061.7,744.4 1066.0,723.4 1070.4,727.8 1074.7,723.4 1079.1,725.1 1083.4,745.4 1087.8,737.5 1092.1,730.7 1096.4,699.1 1100.8,681.5 1105.1,704.3 1109.5,700.6 1113.8,767.6 1118.2,777.4 1122.5,758.3 1126.9,766.6 1131.2,741.3 1135.6,742.7 1139.9,682.5 1144.3,682.5 1148.6,677.7 1153.0,677.7 1157.3,676.3 1161.6,680.4 1166.0,660.3 1170.3,671.5 1174.7,664.4 1179.0,657.6 1183.4,668.6 1187.7,693.5 1192.1,683.5 1196.4,677.9 1200.8,676.7 1205.1,675.6 1209.5,670.7 1213.8,657.0 1218.2,649.9 1222.5,630.6 1226.8,664.8 1231.2,680.4 1235.5,690.2 1239.9,689.4 1244.2,671.1 1248.6,675.2 1252.9,674.2 1257.3,667.3 1261.6,646.6 1266.0,672.5 1270.3,665.3 1274.7,656.5 1279.0,647.8 1283.4,644.5 1287.7,671.1 1292.0,665.9 1296.4,707.4 1300.7,707.4 1305.1,709.5 1309.4,708.9 1313.8,705.8 1318.1,741.3 1322.5,699.1 1326.8,685.2 1331.2,687.1 1335.5,717.2 1339.9,718.2" fill="none" stroke="#8e1599" stroke-width="1.2" stroke-linejoin="round"/>
<line x1="1222" y1="634" x2="1344" y2="688.5" stroke="#8c8c8c" stroke-width="1.1"/>
<g shape-rendering="crispEdges" fill="#4c505c">
<rect x="3" y="4" width="1548" height="1"/>
<rect x="3" y="854" width="1548" height="1"/>
<rect x="3" y="4" width="1" height="851"/>
<rect x="1550" y="4" width="1" height="851"/>
<rect x="1490" y="4" width="1" height="851"/>
<rect x="3" y="610" width="1548" height="1"/>
<rect x="3" y="827" width="1548" height="1"/>
<rect x="1491" y="578" width="4" height="1"/>
<rect x="1491" y="540" width="4" height="1"/>
<rect x="1491" y="501" width="4" height="1"/>
<rect x="1491" y="463" width="4" height="1"/>
<rect x="1491" y="424" width="4" height="1"/>
<rect x="1491" y="386" width="4" height="1"/>
<rect x="1491" y="347" width="4" height="1"/>
<rect x="1491" y="309" width="4" height="1"/>
<rect x="1491" y="270" width="4" height="1"/>
<rect x="1491" y="232" width="4" height="1"/>
<rect x="1491" y="193" width="4" height="1"/>
<rect x="1491" y="155" width="4" height="1"/>
<rect x="1491" y="116" width="4" height="1"/>
<rect x="1491" y="78" width="4" height="1"/>
<rect x="1491" y="39" width="4" height="1"/>
<rect x="1491" y="623" width="4" height="1"/>
<rect x="1491" y="661" width="4" height="1"/>
<rect x="1491" y="700" width="4" height="1"/>
<rect x="1491" y="738" width="4" height="1"/>
<rect x="1491" y="777" width="4" height="1"/>
<rect x="1491" y="815" width="4" height="1"/>
<rect x="114" y="828" width="1" height="4"/>
<rect x="244" y="828" width="1" height="4"/>
<rect x="374" y="828" width="1" height="4"/>
<rect x="527" y="828" width="1" height="4"/>
<rect x="631" y="828" width="1" height="4"/>
<rect x="761" y="828" width="1" height="4"/>
<rect x="892" y="828" width="1" height="4"/>
<rect x="996" y="828" width="1" height="4"/>
<rect x="1096" y="828" width="1" height="4"/>
<rect x="1231" y="828" width="1" height="4"/>
<rect x="1361" y="828" width="1" height="4"/>
</g>
<g font-size="11" fill="#555a66">
<text x="1499" y="581.7">42.00</text>
<text x="1499" y="543.7">43.00</text>
<text x="1499" y="504.7">44.00</text>
<text x="1499" y="466.7">45.00</text>
<text x="1499" y="427.7">46.00</text>
<text x="1499" y="389.7">47.00</text>
<text x="1499" y="350.7">48.00</text>
<text x="1499" y="312.7">49.00</text>
<text x="1499" y="273.7">50.00</text>
<text x="1499" y="235.7">51.00</text>
<text x="1499" y="196.7">52.00</text>
<text x="1499" y="158.7">53.00</text>
<text x="1499" y="119.7">54.00</text>
<text x="1499" y="81.7">55.00</text>
<text x="1499" y="42.7">56.00</text>
<text x="1499" y="626.7">80.00</text>
<text x="1499" y="664.7">70.00</text>
<text x="1499" y="703.7">60.00</text>
<text x="1499" y="741.7">50.00</text>
<text x="1499" y="780.7">40.00</text>
<text x="1499" y="818.7">30.00</text>
<text x="114" y="846" text-anchor="middle">9</text>
<text x="244" y="846" text-anchor="middle">16</text>
<text x="374" y="846" text-anchor="middle">23</text>
<text x="527" y="846" text-anchor="middle">Dec</text>
<text x="631" y="846" text-anchor="middle">7</text>
<text x="761" y="846" text-anchor="middle">14</text>
<text x="892" y="846" text-anchor="middle">21</text>
<text x="996" y="846" text-anchor="middle">28</text>
<text x="1096" y="846" text-anchor="middle" font-weight="bold">2021</text>
<text x="1231" y="846" text-anchor="middle">11</text>
<text x="1361" y="846" text-anchor="middle">18</text>
</g>
<rect x="1506.5" y="11.5" width="27" height="18" rx="4" ry="4" fill="#fff" stroke="#d5d8e0" stroke-width="1"/>
<text x="1511" y="24" font-size="10.5" textLength="18.5" lengthAdjust="spacingAndGlyphs" fill="#555a66">USD</text>
<rect x="1490" y="79" width="45" height="17" fill="#00ff00" shape-rendering="crispEdges"/>
<rect x="1490" y="87" width="4" height="1" fill="#061506" shape-rendering="crispEdges"/>
<text x="1499" y="90.7" font-size="11" fill="#061506">54.77</text>
<rect x="1490" y="113" width="45" height="17" fill="#00ff00" shape-rendering="crispEdges"/>
<rect x="1490" y="121" width="4" height="1" fill="#061506" shape-rendering="crispEdges"/>
<text x="1499" y="124.7" font-size="11" fill="#061506">53.87</text>
<rect x="1490" y="205" width="45" height="17" fill="#0000ff" shape-rendering="crispEdges"/>
<rect x="1490" y="213" width="4" height="1" fill="#ffffff" shape-rendering="crispEdges"/>
<text x="1499" y="216.7" font-size="11" fill="#ffffff" font-weight="bold">51.47</text>
<rect x="1490" y="266" width="45" height="17" fill="#0000ff" shape-rendering="crispEdges"/>
<rect x="1490" y="274" width="4" height="1" fill="#ffffff" shape-rendering="crispEdges"/>
<text x="1499" y="277.7" font-size="11" fill="#ffffff" font-weight="bold">49.90</text>
<rect x="1490" y="144" width="45" height="17" fill="#000000" shape-rendering="crispEdges"/>
<rect x="1490" y="152" width="4" height="1" fill="#ffffff" shape-rendering="crispEdges"/>
<text x="1499" y="155.7" font-size="11" fill="#ffffff" font-weight="bold">53.07</text>
<rect x="1491" y="162" width="55" height="17" fill="#000" shape-rendering="crispEdges"/>
<text x="1495" y="173.7" font-size="11" font-weight="bold" textLength="42.5" lengthAdjust="spacingAndGlyphs" fill="#fff">02:52:39</text>
<text x="12" y="26" font-size="12" font-weight="bold" fill="#4f5360">CFDs on WTI Crude Oil, 4h,</text>
<text x="12" y="43" font-size="12.3" textLength="93" lengthAdjust="spacingAndGlyphs" fill="#5d616d">MA (20, close, 0)</text>
<text x="12" y="60" font-size="12.3" textLength="93" lengthAdjust="spacingAndGlyphs" fill="#5d616d">MA (50, close, 0)</text>
<text x="12" y="632" font-size="12.3" textLength="77.5" lengthAdjust="spacingAndGlyphs" fill="#5d616d">RSI (14, close)</text>
<rect x="173" y="24" width="1" height="1" fill="#8a8e99"/><rect x="192" y="17" width="1" height="1" fill="#8a8e99"/>
<rect x="14" y="164" width="299" height="71" fill="#17222c" shape-rendering="crispEdges"/>
<g fill="none" stroke-width="4.1" stroke-linecap="round" stroke-linejoin="round">
<g stroke="#ffffff">
<path d="M59.5,188.6 A14.6,14.6 0 1 0 59.5,209.6"/>
<path d="M71,185 V213.2"/>
<path d="M81.4,185 H104.8 M93,185 V213.2"/>
<path d="M110.8,184.8 L122.6,201.8 L134.8,184.8 M122.6,201.8 V213.2"/>
</g><g stroke="#fff30f">
<path d="M158.6,185 V213.2"/>
<path d="M172.2,213.2 V185 L195,213.2 V185"/>
<path d="M208.9,185 H217.4 A14.1,14.1 0 0 1 217.4,213.2 H208.9 Z"/>
<path d="M262.6,185 H243.8 V213.2 H262.6 M243.8,199 H258.2"/>
<path d="M273,184.8 L295,213.2 M295,184.8 L273,213.2"/>
</g></g>
<g>
<path d="M7.5,880 H24.6 A4.7,4.7 0 0 0 26.8,871.2 A4.2,4.2 0 0 0 20.4,869.5 A6.6,6.6 0 0 0 7.5,870.7 A4.65,4.65 0 0 0 7.5,880 Z" fill="#2196f3"/>
<path d="M3.2,877.7 L12.9,870.7 L19,876.3 L25.6,869.6" fill="none" stroke="#fff" stroke-width="1.1"/>
<circle cx="12.9" cy="870.7" r="1.9" fill="#fff"/><circle cx="19" cy="876.3" r="1.9" fill="#fff"/>
<text x="30.8" y="877" font-size="12.4" textLength="71" lengthAdjust="spacingAndGlyphs" fill="#131722">TradingView</text>
</g>
</svg></body></html>
